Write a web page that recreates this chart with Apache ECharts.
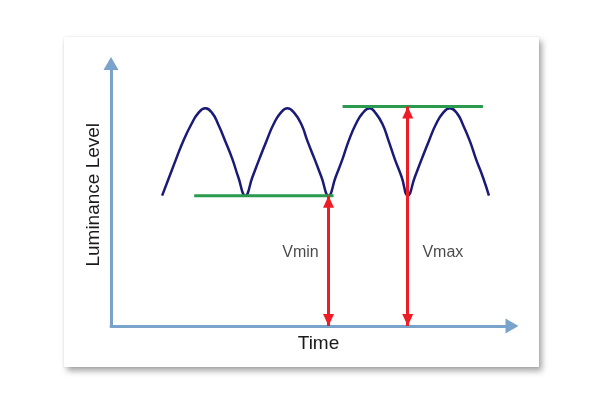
<!DOCTYPE html>
<html>
<head>
<meta charset="utf-8">
<script src="https://cdn.jsdelivr.net/npm/echarts@6/dist/echarts.min.js"></script>
<style>
  html, body { margin: 0; padding: 0; background: #ffffff; }
  #card { position: absolute; left: 64px; top: 37px; width: 475px; height: 330px; background: #ffffff;
          box-shadow: 3px 4px 6px rgba(0,0,0,0.35), 0 0 2px rgba(0,0,0,0.10); }
  #chart { position: absolute; left: 0; top: 0; width: 600px; height: 400px; }
</style>
</head>
<body>
<div id="card"></div>
<div id="chart"></div>
<script>
// Time (x) and luminance (y) samples
const timeValues = [
  51, 58, 65, 72, 80, 87, 94, 101, 107, 114, 121, 127, 134,
  141, 148, 155, 162, 169, 176, 183, 190, 196, 203, 210, 217,
  224, 231, 237, 244, 251, 258, 264, 271, 277, 283, 290, 296,
  303, 310, 317, 324, 331, 338, 345, 351, 358, 364, 371, 377
];
const luminanceValues = [
  59.6, 68.0, 76.4, 84.5, 92.1, 97.3, 99.5, 97.3, 92.1, 84.5, 76.4, 68.0, 59.6,
  68.0, 76.4, 84.5, 92.1, 97.3, 99.5, 97.3, 92.1, 84.5, 76.4, 68.0, 59.6,
  68.0, 76.4, 84.5, 92.1, 97.3, 99.5, 97.3, 92.1, 84.5, 76.4, 68.0, 59.6,
  68.0, 76.4, 84.5, 92.1, 97.3, 99.5, 97.3, 92.1, 84.5, 76.4, 68.0, 59.6
];
// Reference levels
const vminLevel = 59.6;
const vmaxLevel = 100.3;
const vminSpan = [83, 222];   // time range of green Vmin line
const vmaxSpan = [231, 371];  // time range of green Vmax line
const vminTime = 217;
const vmaxTime = 296;
const labels = ['Vmin', 'Vmax'];
const axisNames = ['Time', 'Luminance Level'];

const curve = timeValues.map((t, i) => [t, luminanceValues[i]]);
const font = "'Liberation Sans', Arial, sans-serif";
const axisColor = '#7aa3cb';

const chart = echarts.init(document.getElementById('chart'), null, { renderer: 'canvas' });
chart.setOption({
  animation: false,
  grid: { left: 111, right: 88, top: 63.5, bottom: 74 },
  xAxis: {
    type: 'value', min: 0, max: 400,
    name: axisNames[0], nameLocation: 'middle', nameGap: 8,
    nameTextStyle: { fontFamily: font, fontSize: 19, color: '#1a1a1a', padding: [0, 0, 0, 14] },
    axisLine: { show: true, lineStyle: { color: axisColor, width: 3 }, symbol: ['none', 'triangle'], symbolSize: [15, 13] },
    axisTick: { show: false }, axisLabel: { show: false }, splitLine: { show: false }
  },
  yAxis: {
    type: 'value', min: 0, max: 120,
    name: axisNames[1], nameLocation: 'middle', nameGap: 8, nameRotate: 90,
    nameTextStyle: { fontFamily: font, fontSize: 19, color: '#1a1a1a' },
    axisLine: { show: true, lineStyle: { color: axisColor, width: 3 }, symbol: ['none', 'triangle'], symbolSize: [15, 13] },
    axisTick: { show: false }, axisLabel: { show: false }, splitLine: { show: false }
  },
  series: [
    {
      type: 'line', data: curve, showSymbol: false, smooth: 0.5,
      lineStyle: { color: '#1a1a78', width: 2.5 }, z: 3
    },
    {
      type: 'line', data: [[vminSpan[0], vminLevel], [vminSpan[1], vminLevel]], showSymbol: false,
      lineStyle: { color: '#2a9a4e', width: 3 }, z: 4
    },
    {
      type: 'line', data: [[vmaxSpan[0], vmaxLevel], [vmaxSpan[1], vmaxLevel]], showSymbol: false,
      lineStyle: { color: '#2a9a4e', width: 3 }, z: 4
    },
    {
      type: 'line', data: [], z: 5,
      markLine: {
        silent: true,
        symbol: ['triangle', 'triangle'], symbolSize: [11, 12], symbolOffset: [[0, 6], [0, 6]],
        label: { show: false },
        lineStyle: { color: '#ee1c24', width: 3, type: 'solid' },
        data: [
          [{ coord: [vminTime, 0] }, { coord: [vminTime, vminLevel] }],
          [{ coord: [vmaxTime, 0] }, { coord: [vmaxTime, vmaxLevel] }]
        ]
      }
    },
    {
      type: 'scatter', symbolSize: 0, z: 6,
      data: [[189, 33.4, labels[0]], [331, 33.4, labels[1]]],
      label: { show: true, position: 'inside', formatter: p => p.data[2],
               fontFamily: font, fontSize: 16, color: '#1a1a1a' }
    }
  ]
});
</script>
</body>
</html>
